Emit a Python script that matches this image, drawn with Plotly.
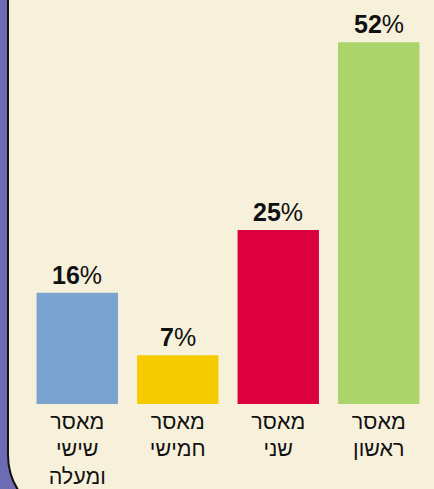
import plotly.graph_objects as go

categories = ["מאסר<br>שישי<br>ומעלה", "מאסר<br>חמישי", "מאסר<br>שני", "מאסר<br>ראשון"]
values = [16, 7, 25, 52]
value_labels = ["<b>16</b>%", "<b>7</b>%", "<b>25</b>%", "<b>52</b>%"]
colors = ["#7BA3D0", "#F5CB00", "#DC0041", "#ABD46A"]

W, H = 434, 489
L, R, T, B = 27, 5, 20, 85
PW, PH = W - L - R, H - T - B

def px(x):
    return (x - L) / PW

def py(y):
    return (H - B - y) / PH

cream = "#F7F1DC"
purple = "#6C6CB4"

k = 0.552
r = 65
x0, yc = 8, 455
path = (
    f"M {px(x0)},{py(-20)} L {px(x0)},{py(yc)} "
    f"C {px(x0)},{py(yc + k*r)} {px(x0 + r - k*r)},{py(yc + r)} {px(x0 + r)},{py(yc + r)} "
    f"L {px(W + 20)},{py(yc + r)} L {px(W + 20)},{py(-20)} Z"
)

fig = go.Figure(
    go.Bar(
        x=categories,
        y=values,
        marker=dict(color=colors, line=dict(width=0)),
        hoverinfo="skip",
    )
)

for c, v, t in zip(categories, values, value_labels):
    fig.add_annotation(
        x=c, y=v, text=t, showarrow=False, yanchor="bottom", yshift=2,
        font=dict(family="Liberation Sans, Arial, sans-serif", size=25, color="#111111"),
    )

fig.update_layout(
    width=W,
    height=H,
    margin=dict(l=L, r=R, t=T, b=B, autoexpand=False),
    paper_bgcolor=purple,
    plot_bgcolor="rgba(0,0,0,0)",
    bargap=0.19,
    showlegend=False,
    shapes=[
        dict(type="path", path=path, xref="paper", yref="paper",
             fillcolor=cream, line=dict(color="#111111", width=2), layer="below"),
    ],
    xaxis=dict(
        showgrid=False, zeroline=False, showline=False, ticks="",
        automargin=False,
        ticklabelstandoff=2,
        tickfont=dict(family="Liberation Sans, Arial, sans-serif", size=21.5, color="#111111"),
    ),
    yaxis=dict(visible=False, range=[0, 55.2], showgrid=False, zeroline=False, automargin=False),
)

fig.write_html(
    "out.html",
    config={"displayModeBar": False},
    post_script="document.body.style.margin='0';document.body.style.padding='0';document.body.style.overflow='hidden';",
)
